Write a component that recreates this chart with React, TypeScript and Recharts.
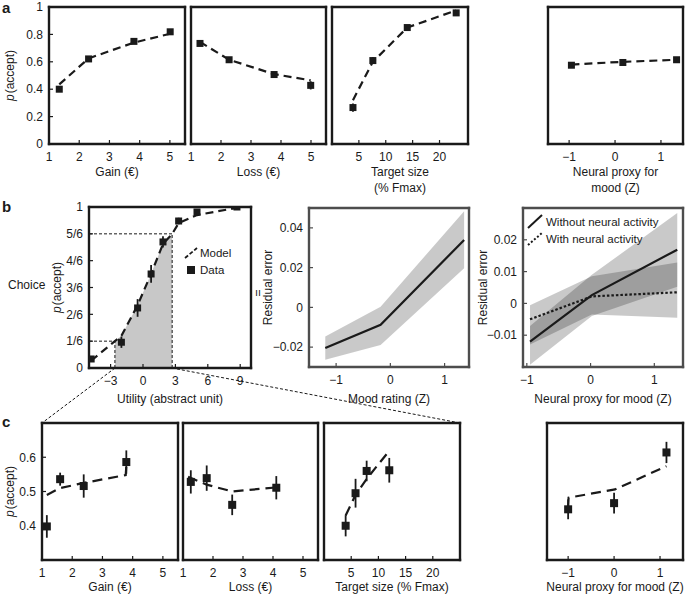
import React from "react";
import {
  ComposedChart,
  XAxis,
  YAxis,
  Line,
  Scatter,
  ErrorBar,
  Area,
  ReferenceLine,
} from "recharts";

const FONT = '"Liberation Sans", Arial, Helvetica, sans-serif';
const INK = "#1a1a1a";
const GREY_FRAME = "#4d4d4d";

// ---- a: p(accept) by task variable (squares = data, dashed = model) ----
const gainX = [1.34, 2.31, 3.81, 5.01];
const gainAccept = [0.4, 0.621, 0.749, 0.819];
const gainSem = [0.02, 0.015, 0.015, 0.02];
const gainFit = [0.435, 0.625, 0.74, 0.805];

const lossX = [1.3, 2.27, 3.77, 4.99];
const lossAccept = [0.734, 0.615, 0.507, 0.428];
const lossSem = [0.015, 0.015, 0.015, 0.03];
const lossFit = [0.745, 0.615, 0.51, 0.465];

const sizeX = [3.9, 7.6, 14, 23.1];
const sizeAccept = [0.266, 0.609, 0.85, 0.957];
const sizeSem = [0.03, 0.025, 0.01, 0.01];
const sizeFit = [0.32, 0.6, 0.85, 0.975];

const proxyX = [-0.95, 0.17, 1.34];
const proxyAccept = [0.575, 0.595, 0.615];
const proxySem = [0.015, 0.015, 0.015];
const proxyFit = [0.58, 0.6, 0.615];

// ---- b: choice vs utility, residual error vs mood ----
const utilX = [-4.8, -2.0, -0.5, 0.75, 1.85, 3.3, 5.0, 8.7];
const utilAccept = [0.056, 0.16, 0.373, 0.584, 0.783, 0.913, 0.969, 1.0];
const utilSem = [0.012, 0.035, 0.055, 0.055, 0.035, 0.02, 0.01, 0.005];
const utilFitX = [-4.8, -2.6, -2.0, -0.5, 0.75, 1.85, 2.7, 3.3, 5.0, 8.7];
const utilFit = [0.045, 0.167, 0.2, 0.39, 0.585, 0.77, 0.833, 0.9, 0.95, 0.995];
const utilCutX = [-2.6, 2.7];
const utilCutP = [1 / 6, 5 / 6];
const sixthLabels = ["0", "1/6", "2/6", "3/6", "4/6", "5/6", "1"];

const moodX = [-1.2, -0.18, 1.36];
const moodResid = [-0.0204, -0.0088, 0.0339];
const moodLo = [-0.0264, -0.0189, 0.0197];
const moodHi = [-0.0147, 0.0003, 0.0484];

const neuralX = [-0.95, 0.02, 1.36];
const residWithout = [-0.012, 0.0026, 0.0169];
const withoutLo = [-0.0193, -0.004, 0.0052];
const withoutHi = [-0.0071, 0.009, 0.0284];
const residWith = [-0.005, 0.0022, 0.0035];
const withLo = [-0.0129, -0.0035, -0.0045];
const withHi = [-0.0006, 0.0085, 0.0129];

// ---- c: zoom on trials with utility between the two cuts ----
const cGainX = [1.16, 1.6, 2.38, 3.79];
const cGainAccept = [0.398, 0.536, 0.516, 0.586];
const cGainSem = [0.033, 0.019, 0.034, 0.034];
const cGainFitX = [1.16, 1.6, 2.38, 3.77, 3.79];
const cGainFit = [0.49, 0.51, 0.525, 0.548, 0.575];

const cLossX = [1.26, 1.79, 2.64, 4.11];
const cLossAccept = [0.528, 0.539, 0.461, 0.511];
const cLossSem = [0.034, 0.037, 0.03, 0.034];
const cLossFitX = [1.17, 1.79, 2.64, 4.11];
const cLossFit = [0.543, 0.52, 0.5, 0.512];

const cSizeX = [3.98, 5.8, 7.84, 12.0];
const cSizeAccept = [0.4, 0.495, 0.56, 0.562];
const cSizeSem = [0.031, 0.042, 0.03, 0.036];
const cSizeFitX = [3.98, 5.8, 8.0, 11.8];
const cSizeFit = [0.43, 0.49, 0.54, 0.615];

const cProxyX = [-1.0, 0.0, 1.14];
const cProxyAccept = [0.448, 0.466, 0.614];
const cProxySem = [0.029, 0.03, 0.031];
const cProxyFitX = [-1.0, -0.99, 0.02, 1.14];
const cProxyFit = [0.455, 0.482, 0.506, 0.574];

const euroTicks = [1, 2, 3, 4, 5];
const sizeTicks = [5, 10, 15, 20];
const zTicks = [-1, 0, 1];
const acceptTicks = [0, 0.2, 0.4, 0.6, 0.8, 1];
const zoomTicks = [0.4, 0.5, 0.6];
const utilTicks = [-3, 0, 3, 6, 9];
const sixthTicks = [0, 1 / 6, 2 / 6, 3 / 6, 4 / 6, 5 / 6, 1];

const BOX = {
  a1: { x: 49, y: 7, w: 136, h: 137 },
  a2: { x: 191, y: 7, w: 135, h: 137 },
  a3: { x: 332, y: 7, w: 136, h: 137 },
  a4: { x: 548, y: 7, w: 135, h: 137 },
  b1: { x: 89, y: 207, w: 162, h: 161 },
  b2: { x: 309, y: 208, w: 160, h: 159 },
  b3: { x: 523, y: 208, w: 160, h: 159 },
  c1: { x: 42, y: 423, w: 136, h: 137 },
  c2: { x: 183, y: 423, w: 135, h: 137 },
  c3: { x: 324, y: 423, w: 136, h: 137 },
  c4: { x: 547, y: 423, w: 136, h: 137 },
};

const zip = (xs: number[], ys: number[], errs?: number[]) =>
  xs.map((x, i) => ({ x, y: ys[i], err: errs ? errs[i] : 0 }));
const zipBand = (xs: number[], lo: number[], hi: number[]) =>
  xs.map((x, i) => ({ x, band: [lo[i], hi[i]] }));

const utilFitData = zip(utilFitX, utilFit);
const utilShade = utilFitData.filter(
  (d) => d.x >= utilCutX[0] && d.x <= utilCutX[1]
);

const minus = (v: number) => String(v).replace("-", "\u2212");
const sixthLabel = (v: number) => sixthLabels[Math.round(v * 6)];

const L = 70;
const R = 10;
const T = 10;
const B = 30;

const square = (size: number) => (p: any) =>
  p.cx == null ? (
    <g />
  ) : (
    <rect
      x={p.cx - size / 2}
      y={p.cy - size / 2}
      width={size}
      height={size}
      fill={INK}
    />
  );

const fitLine = (data: any[], dash = "8 5") => (
  <Line
    data={data}
    dataKey="y"
    type="linear"
    stroke={INK}
    strokeWidth={2.2}
    strokeDasharray={dash}
    dot={false}
    activeDot={false}
    isAnimationActive={false}
  />
);

const dots = (data: any[], size = 7) => (
  <Scatter
    data={data}
    dataKey="y"
    shape={square(size)}
    isAnimationActive={false}
  >
    <ErrorBar
      dataKey="err"
      direction="y"
      width={0}
      stroke={INK}
      strokeWidth={1.8}
    />
  </Scatter>
);

function Panel({
  box,
  xDomain,
  yDomain,
  xTicks,
  yTicks,
  yLabels = false,
  yFmt = minus,
  frame = INK,
  children,
}: any) {
  const axisLine = {
    stroke: frame,
    strokeWidth: 2.4,
    strokeLinecap: "square",
  };
  const tickLine = { stroke: frame, strokeWidth: 1.2 };
  const tickText = { fill: INK, fontSize: 12, fontFamily: FONT };
  return (
    <div style={{ position: "absolute", left: box.x - L, top: box.y - T }}>
      <ComposedChart
        width={box.w + L + R}
        height={box.h + T + B}
        margin={{ top: 0, right: 0, bottom: 0, left: 0 }}
      >
        <XAxis
          type="number"
          dataKey="x"
          domain={xDomain}
          ticks={xTicks}
          interval={0}
          allowDataOverflow
          height={B}
          tickSize={-4}
          tickMargin={12}
          tickFormatter={minus}
          axisLine={axisLine}
          tickLine={tickLine}
          tick={tickText}
        />
        <XAxis
          xAxisId="top"
          orientation="top"
          type="number"
          dataKey="x"
          domain={xDomain}
          ticks={xTicks}
          interval={0}
          allowDataOverflow
          height={T}
          tickSize={-4}
          axisLine={axisLine}
          tickLine={tickLine}
          tick={false}
        />
        <YAxis
          type="number"
          domain={yDomain}
          ticks={yTicks}
          interval={0}
          allowDataOverflow
          width={L}
          tickSize={-4}
          tickMargin={10}
          tickFormatter={yFmt}
          axisLine={axisLine}
          tickLine={tickLine}
          tick={yLabels ? tickText : false}
        />
        <YAxis
          yAxisId="right"
          orientation="right"
          type="number"
          domain={yDomain}
          ticks={yTicks}
          interval={0}
          allowDataOverflow
          width={R}
          tickSize={-4}
          axisLine={axisLine}
          tickLine={tickLine}
          tick={false}
        />
        {children}
      </ComposedChart>
    </div>
  );
}

const xTitles = [
  { box: BOX.a1, gap: 28, lines: ["Gain (\u20ac)"] },
  { box: BOX.a2, gap: 28, lines: ["Loss (\u20ac)"] },
  { box: BOX.a3, gap: 28, lines: ["Target size", "(% Fmax)"] },
  { box: BOX.a4, gap: 28, lines: ["Neural proxy for", "mood (Z)"] },
  { box: BOX.b1, gap: 31, lines: ["Utility (abstract unit)"] },
  { box: BOX.b2, gap: 32, lines: ["Mood rating (Z)"] },
  { box: BOX.b3, gap: 32, lines: ["Neural proxy for mood (Z)"] },
  { box: BOX.c1, gap: 27, lines: ["Gain (\u20ac)"] },
  { box: BOX.c2, gap: 27, lines: ["Loss (\u20ac)"] },
  { box: BOX.c3, gap: 27, lines: ["Target size (% Fmax)"] },
  { box: BOX.c4, gap: 27, lines: ["Neural proxy for mood (Z)"] },
];

const yTitles = [
  { box: BOX.a1, dx: 39, p: true, text: "(accept)" },
  { box: BOX.b1, dx: 32, p: true, text: "(accept)" },
  { box: BOX.b2, dx: 41, p: false, text: "Residual error" },
  { box: BOX.b3, dx: 40, p: false, text: "Residual error" },
  { box: BOX.c1, dx: 32, p: true, text: "(accept)" },
];

function Overlay() {
  return (
    <svg
      width={685}
      height={594}
      style={{ position: "absolute", left: 0, top: 0, pointerEvents: "none" }}
      fontFamily={FONT}
      fill={INK}
    >
      <text x={2} y={13} fontSize={15} fontWeight="bold">a</text>
      <text x={2} y={212} fontSize={15} fontWeight="bold">b</text>
      <text x={2} y={427} fontSize={15} fontWeight="bold">c</text>
      <text x={8} y={289} fontSize={12}>Choice</text>
      <text
        transform="translate(258,293) rotate(-90)"
        textAnchor="middle"
        dominantBaseline="central"
        fontSize={12}
      >
        =
      </text>

      {xTitles.map((t, i) =>
        t.lines.map((line, j) => (
          <text
            key={`${i}-${j}`}
            x={t.box.x + t.box.w / 2}
            y={t.box.y + t.box.h + t.gap + j * 16}
            textAnchor="middle"
            dominantBaseline="central"
            fontSize={12}
          >
            {line}
          </text>
        ))
      )}
      {yTitles.map((t, i) => (
        <text
          key={i}
          transform={`translate(${t.box.x - t.dx},${t.box.y + t.box.h / 2}) rotate(-90)`}
          textAnchor="middle"
          dominantBaseline="central"
          fontSize={12}
        >
          {t.p && <tspan fontStyle="italic">p</tspan>}
          {t.p ? <tspan dx={1}>{t.text}</tspan> : t.text}
        </text>
      ))}

      {/* connectors from the utility cuts down to panel c */}
      <line x1={115} y1={368} x2={42} y2={423} stroke={INK} strokeWidth={1} strokeDasharray="3 2" />
      <line x1={172} y1={368} x2={460} y2={423} stroke={INK} strokeWidth={1} strokeDasharray="3 2" />

      {/* legend b, left */}
      <line x1={185} y1={258} x2={197} y2={248} stroke={INK} strokeWidth={1.8} strokeDasharray="4 2" />
      <text x={200} y={253} fontSize={11.5} dominantBaseline="central">Model</text>
      <rect x={187} y={266} width={8} height={8} fill={INK} />
      <text x={200} y={270} fontSize={11.5} dominantBaseline="central">Data</text>

      {/* legend b, right */}
      <line x1={528} y1={228} x2={542} y2={215} stroke={INK} strokeWidth={2} />
      <text x={546} y={222} fontSize={11.5} dominantBaseline="central">Without neural activity</text>
      <line x1={528} y1={245} x2={542} y2={233} stroke={INK} strokeWidth={2} strokeDasharray="2 2" />
      <text x={546} y={239} fontSize={11.5} dominantBaseline="central">With neural activity</text>
    </svg>
  );
}

export default function App() {
  return (
    <div
      style={{
        position: "absolute",
        left: 0,
        top: 0,
        width: 685,
        height: 594,
        background: "#fff",
        fontFamily: FONT,
        overflow: "hidden",
      }}
    >
      {/* ---- a ---- */}
      <Panel box={BOX.a1} xDomain={[1, 5.5]} yDomain={[0, 1]} xTicks={euroTicks} yTicks={acceptTicks} yLabels>
        {fitLine(zip(gainX, gainFit))}
        {dots(zip(gainX, gainAccept, gainSem))}
      </Panel>
      <Panel box={BOX.a2} xDomain={[1, 5.5]} yDomain={[0, 1]} xTicks={euroTicks} yTicks={acceptTicks}>
        {fitLine(zip(lossX, lossFit))}
        {dots(zip(lossX, lossAccept, lossSem))}
      </Panel>
      <Panel box={BOX.a3} xDomain={[0, 25.3]} yDomain={[0, 1]} xTicks={sizeTicks} yTicks={acceptTicks}>
        {fitLine(zip(sizeX, sizeFit))}
        {dots(zip(sizeX, sizeAccept, sizeSem))}
      </Panel>
      <Panel box={BOX.a4} xDomain={[-1.46, 1.48]} yDomain={[0, 1]} xTicks={zTicks} yTicks={acceptTicks}>
        {fitLine(zip(proxyX, proxyFit))}
        {dots(zip(proxyX, proxyAccept, proxySem))}
      </Panel>

      {/* ---- b ---- */}
      <Panel
        box={BOX.b1}
        xDomain={[-5, 10]}
        yDomain={[0, 1]}
        xTicks={utilTicks}
        yTicks={sixthTicks}
        yLabels
        yFmt={sixthLabel}
      >
        <Area
          data={utilShade}
          dataKey="y"
          type="linear"
          stroke="none"
          fill="#c8c8c8"
          fillOpacity={1}
          baseValue={0}
          isAnimationActive={false}
        />
        <ReferenceLine
          segment={[{ x: -5, y: utilCutP[0] }, { x: utilCutX[0], y: utilCutP[0] }]}
          stroke={INK}
          strokeWidth={1}
          strokeDasharray="3 2"
        />
        <ReferenceLine
          segment={[{ x: utilCutX[0], y: 0 }, { x: utilCutX[0], y: utilCutP[0] }]}
          stroke={INK}
          strokeWidth={1}
          strokeDasharray="3 2"
        />
        <ReferenceLine
          segment={[{ x: -5, y: utilCutP[1] }, { x: utilCutX[1], y: utilCutP[1] }]}
          stroke={INK}
          strokeWidth={1}
          strokeDasharray="3 2"
        />
        <ReferenceLine
          segment={[{ x: utilCutX[1], y: 0 }, { x: utilCutX[1], y: utilCutP[1] }]}
          stroke={INK}
          strokeWidth={1}
          strokeDasharray="3 2"
        />
        {fitLine(utilFitData)}
        {dots(zip(utilX, utilAccept, utilSem))}
      </Panel>
      <Panel
        box={BOX.b2}
        xDomain={[-1.5, 1.45]}
        yDomain={[-0.03, 0.05]}
        xTicks={zTicks}
        yTicks={[-0.02, 0, 0.02, 0.04]}
        yLabels
        frame={GREY_FRAME}
      >
        <Area
          data={zipBand(moodX, moodLo, moodHi)}
          dataKey="band"
          type="linear"
          stroke="none"
          fill="#000"
          fillOpacity={0.21}
          isAnimationActive={false}
        />
        <Line
          data={zip(moodX, moodResid)}
          dataKey="y"
          type="linear"
          stroke={INK}
          strokeWidth={2.2}
          dot={false}
          activeDot={false}
          isAnimationActive={false}
        />
      </Panel>
      <Panel
        box={BOX.b3}
        xDomain={[-1.06, 1.45]}
        yDomain={[-0.02, 0.03]}
        xTicks={zTicks}
        yTicks={[-0.01, 0, 0.01, 0.02]}
        yLabels
        frame={GREY_FRAME}
      >
        <Area
          data={zipBand(neuralX, withoutLo, withoutHi)}
          dataKey="band"
          type="linear"
          stroke="none"
          fill="#000"
          fillOpacity={0.21}
          isAnimationActive={false}
        />
        <Area
          data={zipBand(neuralX, withLo, withHi)}
          dataKey="band"
          type="linear"
          stroke="none"
          fill="#000"
          fillOpacity={0.21}
          isAnimationActive={false}
        />
        <Line
          data={zip(neuralX, residWithout)}
          dataKey="y"
          type="linear"
          stroke={INK}
          strokeWidth={2.2}
          dot={false}
          activeDot={false}
          isAnimationActive={false}
        />
        {fitLine(zip(neuralX, residWith), "2.5 2")}
      </Panel>

      {/* ---- c ---- */}
      <Panel box={BOX.c1} xDomain={[1, 5.5]} yDomain={[0.3, 0.7]} xTicks={euroTicks} yTicks={zoomTicks} yLabels>
        {fitLine(zip(cGainFitX, cGainFit), "10 6")}
        {dots(zip(cGainX, cGainAccept, cGainSem), 8)}
      </Panel>
      <Panel box={BOX.c2} xDomain={[1, 5.5]} yDomain={[0.3, 0.7]} xTicks={euroTicks} yTicks={zoomTicks}>
        {fitLine(zip(cLossFitX, cLossFit), "10 6")}
        {dots(zip(cLossX, cLossAccept, cLossSem), 8)}
      </Panel>
      <Panel box={BOX.c3} xDomain={[0, 25]} yDomain={[0.3, 0.7]} xTicks={sizeTicks} yTicks={zoomTicks}>
        {fitLine(zip(cSizeFitX, cSizeFit), "10 6")}
        {dots(zip(cSizeX, cSizeAccept, cSizeSem), 8)}
      </Panel>
      <Panel box={BOX.c4} xDomain={[-1.46, 1.5]} yDomain={[0.3, 0.7]} xTicks={zTicks} yTicks={zoomTicks}>
        {fitLine(zip(cProxyFitX, cProxyFit), "10 6")}
        {dots(zip(cProxyX, cProxyAccept, cProxySem), 8)}
      </Panel>

      <Overlay />
    </div>
  );
}
